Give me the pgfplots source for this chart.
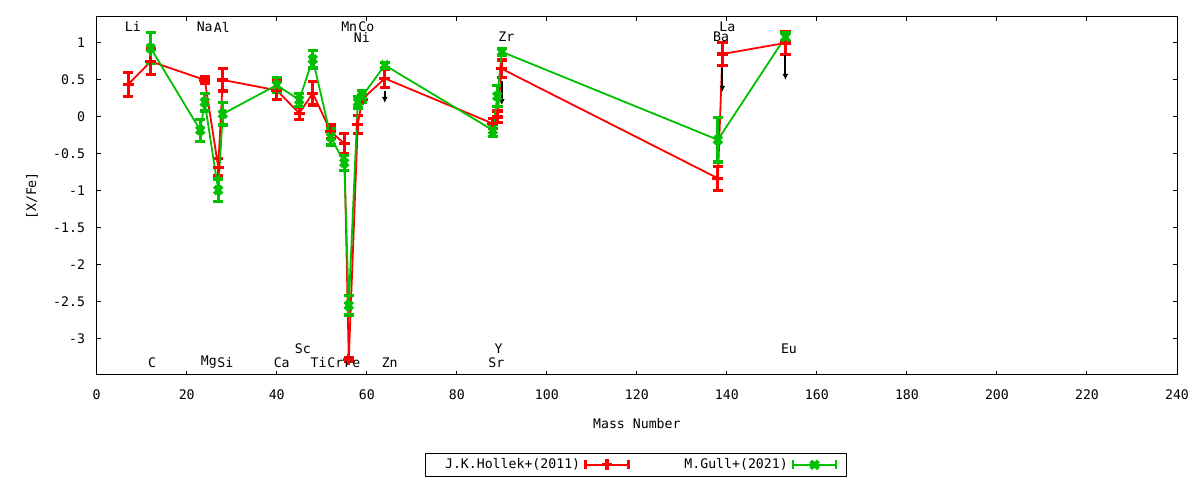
\documentclass[border=0pt]{standalone}
\usepackage{fontspec}
\setmainfont{DejaVu Sans Mono}
\usepackage{pgfplots}
\pgfplotsset{compat=1.18}
\usepackage{pgfplotstable}
\usetikzlibrary{arrows.meta}
\definecolor{gpred}{RGB}{255,0,0}
\definecolor{gpgreen}{RGB}{0,192,0}
\newcommand\gfont{\fontsize{6.6}{7.9}\selectfont}

\pgfplotstableread{
x y e
7 0.44 0.16
12 0.75 0.18
24 0.50 0.05
27 -0.68 0.12
28 0.50 0.15
40 0.36 0.13
45 0.05 0.08
48 0.32 0.16
52 -0.20 0.09
55 -0.36 0.14
56 -3.28 0.03
58 -0.10 0.12
59 0.24 0.05
64 0.52 0.12
88 -0.09 0.07
89 0.00 0.08
90 0.65 0.12
138 -0.83 0.16
139 0.85 0.16
153 1.00 0.16
}\hollek

\pgfplotstableread{
x y e
12 0.93 0.21
23 -0.18 0.15
24 0.20 0.12
27 -0.99 0.15
28 0.04 0.15
40 0.43 0.10
45 0.23 0.09
48 0.78 0.12
52 -0.27 0.11
55 -0.62 0.10
56 -2.55 0.13
58 0.20 0.08
59 0.28 0.08
64 0.70 0.04
88 -0.18 0.08
89 0.28 0.14
90 0.88 0.05
138 -0.31 0.30
153 1.08 0.06
}\gull

\pgfplotstableread{
x y dy
64 0.35 -0.16
90 0.48 -0.32
139 0.66 -0.32
153 0.84 -0.34
}\limits

\begin{document}
\begin{tikzpicture}
\useasboundingbox (0,0) rectangle (600pt,240pt);
\begin{axis}[
  at={(48.35pt,52.5pt)}, anchor=south west,
  scale only axis, width=540.15pt, height=179pt,
  xmin=0, xmax=240, ymin=-3.49, ymax=1.351,
  xtick={0,20,...,240},
  ytick={-3,-2.5,-2,-1.5,-1,-0.5,0,0.5,1},
  tick align=inside, major tick length=2pt,
  axis line style={line width=0.5pt},
  tick style={line width=0.5pt, black},
  /pgf/number format/assume math mode=true,
  tick label style={font=\gfont},
  xticklabel style={yshift=-4pt},
  yticklabel style={xshift=-2.3pt},
  xlabel={Mass Number}, ylabel={[X/Fe]},
  label style={font=\gfont},
  xlabel style={at={(axis description cs:0.5,-0.137)}, anchor=center},
  ylabel style={at={(axis description cs:-0.0599,0.5)}, anchor=center},
  legend style={at={(0.499,-0.251)}, anchor=center, legend columns=2,
    draw=black, line width=0.5pt, font=\gfont, inner xsep=4.5pt, inner ysep=0.3pt,
    /tikz/every even column/.append style={column sep=0pt}},
  legend plot pos=right,
  legend cell align=right,
  legend image code/.code={
    \draw[#1, line width=1.3pt, mark=none] (0pt,0pt) -- (21.5pt,0pt);
    \draw[#1, line width=1.3pt, mark=none] (0pt,-2.3pt) -- (0pt,2.3pt) (21.5pt,-2.3pt) -- (21.5pt,2.3pt);
    \draw[#1, line width=1pt, mark repeat=2, mark phase=2] plot coordinates {(0pt,0pt) (10.75pt,0pt) (21.5pt,0pt)};
  },
  clip=false,
]
\addplot[color=gpred, line width=0.9pt, mark=+, mark size=2.7pt,
  mark options={line width=1.6pt},
  error bars/.cd, y dir=both, y explicit,
  error bar style={line width=1.5pt},
  error mark options={rotate=90, mark size=2.6pt, line width=1.6pt}]
  table[x=x, y=y, y error=e] {\hollek};
\addlegendentry{\makebox[71pt][r]{J.K.Hollek+(2011)}}
\addplot[color=gpgreen, line width=0.9pt, mark=x, mark size=2.7pt,
  mark options={line width=2pt},
  error bars/.cd, y dir=both, y explicit,
  error bar style={line width=1.5pt},
  error mark options={rotate=90, mark size=2.6pt, line width=1.6pt}]
  table[x=x, y=y, y error=e] {\gull};
\addlegendentry{\makebox[77pt][r]{M.Gull+(2021)}}
\addplot[black, line width=1pt, -{Latex[length=3pt,width=3pt]},
  quiver={u=0, v=\thisrow{dy}, every arrow/.append style={-{Latex[length=3pt,width=3pt]}}},
  forget plot] table[x=x, y=y] {\limits};

\begin{scope}[every node/.style={font=\gfont, inner sep=0pt, anchor=center}]
\node at (axis cs:8.05,1.216) {Li};
\node at (axis cs:24.0,1.216) {Na};
\node at (axis cs:27.8,1.216) {Al};
\node at (axis cs:56.1,1.216) {Mn};
\node at (axis cs:59.9,1.216) {Co};
\node at (axis cs:140.1,1.216) {La};
\node at (axis cs:58.9,1.08) {Ni};
\node at (axis cs:91.0,1.08) {Zr};
\node at (axis cs:138.7,1.08) {Ba};
\node at (axis cs:45.8,-3.135) {Sc};
\node at (axis cs:89.3,-3.135) {Y};
\node at (axis cs:153.8,-3.135) {Eu};
\node at (axis cs:12.3,-3.32) {C};
\node at (axis cs:24.9,-3.32) {Mg};
\node at (axis cs:28.6,-3.32) {Si};
\node at (axis cs:41.1,-3.32) {Ca};
\node at (axis cs:49.3,-3.32) {Ti};
\node at (axis cs:53.0,-3.32) {Cr};
\node at (axis cs:56.8,-3.32) {Fe};
\node at (axis cs:65.1,-3.32) {Zn};
\node at (axis cs:88.8,-3.32) {Sr};
\end{scope}
\end{axis}
\end{tikzpicture}
\end{document}
